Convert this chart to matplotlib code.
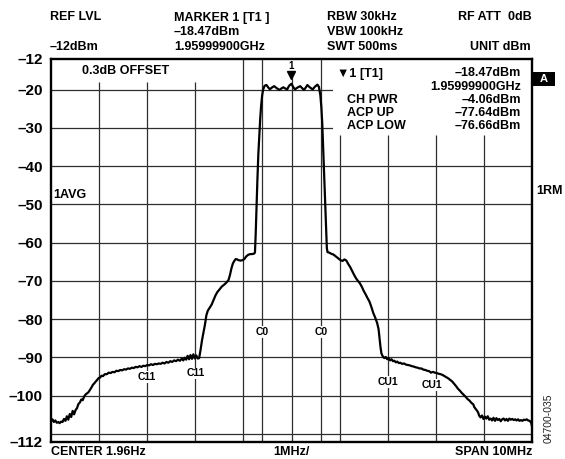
import matplotlib
matplotlib.use("Agg")
import matplotlib.pyplot as plt
from matplotlib.patches import Rectangle

plt.rcParams['font.family'] = ['Liberation Sans', 'DejaVu Sans']
plt.rcParams['font.weight'] = 'bold'

# ---- spectrum trace: frequency offset from centre (MHz) and level (dBm) ----
freq_mhz = [
    -5.00, -4.97, -4.94, -4.91, -4.88, -4.85, -4.82, -4.79, -4.76, -4.73,
    -4.70, -4.67, -4.64, -4.61, -4.58, -4.55, -4.52, -4.49, -4.46, -4.43,
    -4.40, -4.37, -4.34, -4.31, -4.28, -4.25, -4.22, -4.19, -4.16, -4.13,
    -4.10, -4.07, -4.04, -4.01, -3.98, -3.95, -3.92, -3.88, -3.84, -3.80,
    -3.76, -3.72, -3.68, -3.64, -3.60, -3.56, -3.52, -3.48, -3.44, -3.40,
    -3.36, -3.32, -3.28, -3.24, -3.20, -3.16, -3.12, -3.08, -3.04, -3.00,
    -2.96, -2.92, -2.88, -2.84, -2.80, -2.76, -2.72, -2.68, -2.64, -2.60,
    -2.56, -2.52, -2.48, -2.44, -2.40, -2.36, -2.32, -2.28, -2.25, -2.22,
    -2.19, -2.16, -2.13, -2.10, -2.07, -2.04, -2.01, -1.98, -1.95, -1.92,
    -1.89, -1.86, -1.83, -1.80, -1.77, -1.74, -1.70, -1.66, -1.62, -1.58,
    -1.54, -1.50, -1.45, -1.40, -1.35, -1.31, -1.28, -1.25, -1.22, -1.19,
    -1.16, -1.13, -1.10, -1.06, -1.02, -0.98, -0.94, -0.90, -0.86, -0.82,
    -0.78, -0.76, -0.745, -0.73, -0.71, -0.69, -0.67, -0.65, -0.63, -0.61,
    -0.59, -0.56, -0.52, -0.48, -0.45, -0.40, -0.36, -0.31, -0.25, -0.21,
    -0.17, -0.13, -0.09, -0.05, -0.001, 0.03, 0.07, 0.12, 0.18, 0.22,
    0.26, 0.30, 0.33, 0.38, 0.44, 0.49, 0.54, 0.57, 0.60, 0.62,
    0.64, 0.66, 0.68, 0.70, 0.72, 0.735, 0.75, 0.78, 0.81, 0.84,
    0.87, 0.90, 0.94, 0.98, 1.02, 1.06, 1.10, 1.14, 1.18, 1.22,
    1.26, 1.30, 1.34, 1.38, 1.42, 1.46, 1.50, 1.54, 1.58, 1.62,
    1.66, 1.70, 1.74, 1.78, 1.81, 1.83, 1.85, 1.87, 1.90, 1.93,
    1.96, 1.99, 2.02, 2.05, 2.08, 2.11, 2.14, 2.17, 2.20, 2.23,
    2.26, 2.30, 2.34, 2.38, 2.42, 2.46, 2.50, 2.54, 2.58, 2.62,
    2.66, 2.70, 2.74, 2.78, 2.82, 2.86, 2.90, 2.94, 2.98, 3.02,
    3.06, 3.10, 3.14, 3.18, 3.22, 3.26, 3.30, 3.34, 3.38, 3.42,
    3.46, 3.50, 3.54, 3.58, 3.62, 3.66, 3.70, 3.74, 3.78, 3.80,
    3.83, 3.86, 3.88, 3.90, 3.93, 3.96, 3.99, 4.02, 4.05, 4.08,
    4.11, 4.14, 4.17, 4.20, 4.23, 4.26, 4.29, 4.32, 4.35, 4.38,
    4.41, 4.44, 4.47, 4.50, 4.53, 4.56, 4.59, 4.62, 4.65, 4.68,
    4.71, 4.74, 4.77, 4.80, 4.83, 4.86, 4.89, 4.92, 4.95, 4.98,
    5.00,
]
level_dbm = [
    -106.8, -106.2, -106.9, -106.5, -107.1, -106.9, -107.2, -106.8, -106.9, -106.1,
    -106.6, -105.4, -106.3, -104.8, -105.6, -104.0, -104.9, -103.8, -103.3, -102.2,
    -101.8, -101.0, -101.2, -100.2, -99.7, -99.4, -99.1, -98.5, -97.9, -97.2,
    -96.8, -96.3, -95.9, -95.4, -95.3, -94.8, -94.9, -94.4, -94.4, -94.0,
    -94.1, -93.8, -93.9, -93.5, -93.6, -93.3, -93.4, -93.1, -93.2, -92.9,
    -93.0, -92.7, -92.8, -92.5, -92.6, -92.3, -92.5, -92.2, -92.3, -92.0,
    -92.1, -91.8, -92.0, -91.7, -91.8, -91.6, -91.7, -91.4, -91.6, -91.2,
    -91.4, -91.0, -91.2, -90.8, -91.0, -90.6, -90.9, -90.3, -90.8, -90.1,
    -90.6, -89.6, -90.5, -89.4, -90.4, -89.2, -90.3, -89.5, -90.3, -90.2,
    -88.0, -85.5, -83.5, -81.5, -79.0, -77.8, -77.0, -76.2, -75.0, -73.8,
    -72.9, -72.3, -71.5, -71.0, -70.4, -69.8, -68.5, -66.8, -65.5, -64.8,
    -64.3, -64.4, -64.6, -64.7, -64.6, -64.3, -63.6, -63.2, -63.0, -63.0,
    -62.9, -62.6, -58.0, -52.0, -44.0, -37.0, -32.0, -27.5, -24.0, -21.5,
    -20.0, -19.0, -18.8, -19.5, -19.9, -19.4, -19.1, -19.6, -20.1, -19.7,
    -19.4, -19.7, -19.95, -19.0, -18.47, -19.2, -19.95, -19.5, -19.1, -19.6,
    -20.1, -19.4, -18.8, -19.4, -19.95, -19.2, -18.7, -19.3, -21.5, -24.5,
    -29.0, -36.0, -43.5, -50.5, -57.0, -61.5, -62.5, -62.6, -62.8, -63.0,
    -63.1, -63.4, -63.8, -64.2, -64.6, -64.8, -64.4, -64.7, -65.6, -66.4,
    -67.4, -68.4, -69.3, -70.0, -70.6, -71.5, -72.6, -73.5, -74.5, -75.4,
    -76.8, -78.4, -79.6, -81.0, -82.6, -85.0, -87.3, -89.0, -89.8, -90.2,
    -89.9, -90.5, -90.2, -90.8, -90.5, -91.0, -90.9, -91.3, -91.1, -91.5,
    -91.4, -91.7, -91.6, -91.9, -92.0, -92.1, -92.3, -92.4, -92.6, -92.7,
    -92.9, -92.9, -93.2, -93.3, -93.5, -93.6, -94.0, -93.8, -94.0, -94.1,
    -94.3, -94.4, -94.6, -94.9, -95.2, -95.5, -95.9, -96.3, -96.9, -97.5,
    -98.2, -98.7, -99.3, -99.8, -100.3, -100.9, -101.3, -101.9, -102.3, -103.0,
    -103.5, -104.0, -104.4, -105.2, -105.7, -105.2, -106.1, -105.5, -106.0, -105.4,
    -106.3, -106.0, -106.5, -105.8, -106.6, -105.9, -106.4, -106.1, -106.7, -106.2,
    -106.0, -106.5, -106.1, -106.6, -106.0, -106.3, -106.1, -106.4, -106.2, -106.5,
    -106.2, -106.6, -106.4, -106.6, -106.3, -106.4, -106.2, -106.5, -106.6, -107.0,
    -108.0,
]

# ---- marker 1 ----
marker_freq = -0.001
marker_level = -18.47

# ---- axis scale ----
y_ticks = [-12, -20, -30, -40, -50, -60, -70, -80, -90, -100, -112]
y_tick_labels = ['–12', '–20', '–30', '–40', '–50', '–60', '–70', '–80', '–90', '–100', '–112']
h_grid = [-20, -30, -40, -50, -60, -70, -80, -90, -100, -110]
v_grid = [-4, -3, -2, -1, 0, 1, 2, 3, 4]

# ---- channel markers ----
c0_edges = [-0.6144, 0.6144]
channel_labels = ['C0', 'C0', 'C11', 'C11', 'CU1', 'CU1']
channel_label_x = [-0.6144, 0.6144, -3.0, -2.0, 2.0, 2.92]
channel_label_y = [-83.4, -83.4, -95.2, -94.2, -96.4, -97.2]

W, H = 565, 459
fig = plt.figure(figsize=(W / 100, H / 100), dpi=100)
fig.patch.set_facecolor('white')


def fx(px):
    return px / W


def fy(py):
    return 1 - py / H


ax = fig.add_axes([fx(51), fy(441.5), 481 / W, 382.5 / H])
ax.set_xlim(-5, 5)
ax.set_ylim(-112, -12)

grid_kw = dict(color='#2e2e2e', lw=0.9, zorder=0.5)
for y in h_grid:
    ax.axhline(y, **grid_kw)

# vertical grid, shortened where the header boxes sit
v_top = {-4: -18.0, -3: -18.0, -2: -18.0, 0: -16.7, 1: -31.9, 2: -31.9, 3: -31.9, 4: -31.9}
for x in v_grid:
    ax.vlines(x, -112, v_top.get(x, -12), **grid_kw)
for x in c0_edges:
    ax.vlines(x, -112, -12, **grid_kw)

# white panels behind the on-screen annotations
ax.add_patch(Rectangle((-5, -18.0), 3.41, 6.0, facecolor='white', edgecolor='none', zorder=1))
ax.add_patch(Rectangle((0.863, -31.9), 4.137, 19.9, facecolor='white', edgecolor='none', zorder=1))

# trace
ax.plot(freq_mhz, level_dbm, color='black', lw=1.6, zorder=3, solid_joinstyle='round')

# marker triangle and number
ax.plot([marker_freq], [marker_level + 2.3], marker='v', color='black', markersize=5.5, zorder=4)
ax.text(marker_freq, marker_level + 4.6, '1', ha='center', va='center', fontsize=7, zorder=4)

for lab, x, y in zip(channel_labels, channel_label_x, channel_label_y):
    ax.text(x, y, lab, ha='center', va='center', fontsize=7.5, zorder=4,
            bbox=dict(facecolor='white', edgecolor='none', pad=0.6))

ax.set_xticks([])
ax.set_yticks(y_ticks)
ax.set_yticklabels(y_tick_labels, fontsize=11, fontweight='bold')
ax.tick_params(axis='y', length=0, pad=6)
for s in ax.spines.values():
    s.set_linewidth(1.7)
    s.set_color('black')

# header lines
hdr = 9
fig.text(fx(50), fy(17.5), 'REF LVL', fontsize=hdr, va='center')
fig.text(fx(50), fy(47), '–12dBm', fontsize=hdr, va='center')
fig.text(fx(174), fy(17.5), 'MARKER 1 [T1 ]', fontsize=hdr, va='center')
fig.text(fx(174), fy(32), '–18.47dBm', fontsize=hdr, va='center')
fig.text(fx(174), fy(47), '1.95999900GHz', fontsize=hdr, va='center')
fig.text(fx(327), fy(17.5), 'RBW 30kHz', fontsize=hdr, va='center')
fig.text(fx(327), fy(32), 'VBW 100kHz', fontsize=hdr, va='center')
fig.text(fx(327), fy(47), 'SWT 500ms', fontsize=hdr, va='center')
fig.text(fx(532), fy(17.5), 'RF ATT  0dB', fontsize=hdr, va='center', ha='right')
fig.text(fx(531), fy(47), 'UNIT dBm', fontsize=hdr, va='center', ha='right')

# in-screen annotations
fig.text(fx(126), fy(71), '0.3dB OFFSET', fontsize=hdr, va='center', ha='center')
fig.text(fx(337), fy(73.5), '▼1 [T1]', fontsize=hdr, va='center')
fig.text(fx(521), fy(73.5), '–18.47dBm', fontsize=hdr, va='center', ha='right')
fig.text(fx(521), fy(87), '1.95999900GHz', fontsize=hdr, va='center', ha='right')
fig.text(fx(347), fy(100), 'CH PWR', fontsize=hdr, va='center')
fig.text(fx(521), fy(100), '–4.06dBm', fontsize=hdr, va='center', ha='right')
fig.text(fx(347), fy(113), 'ACP UP', fontsize=hdr, va='center')
fig.text(fx(521), fy(113), '–77.64dBm', fontsize=hdr, va='center', ha='right')
fig.text(fx(347), fy(126), 'ACP LOW', fontsize=hdr, va='center')
fig.text(fx(521), fy(126), '–76.66dBm', fontsize=hdr, va='center', ha='right')
fig.text(fx(53), fy(195), '1AVG', fontsize=hdr, va='center')
fig.text(fx(536), fy(191), '1RM', fontsize=hdr, va='center')

# "A" trace indicator
fig.patches.append(Rectangle((fx(533), fy(85.5)), 22 / W, 13.5 / H, transform=fig.transFigure,
                             facecolor='black', edgecolor='none'))
fig.text(fx(544), fy(78.5), 'A', fontsize=8, color='white', va='center', ha='center')

# footer
fig.text(fx(51), fy(452), 'CENTER 1.96Hz', fontsize=hdr, va='center')
fig.text(fx(291), fy(452), '1MHz/', fontsize=hdr, va='center', ha='center')
fig.text(fx(532), fy(452), 'SPAN 10MHz', fontsize=hdr, va='center', ha='right')

fig.text(fx(549), fy(418), '04700-035', fontsize=7.5, fontweight='normal', rotation=90,
         va='center', ha='center', color='#222222')

fig.savefig('out.png', dpi=100, facecolor='white')
